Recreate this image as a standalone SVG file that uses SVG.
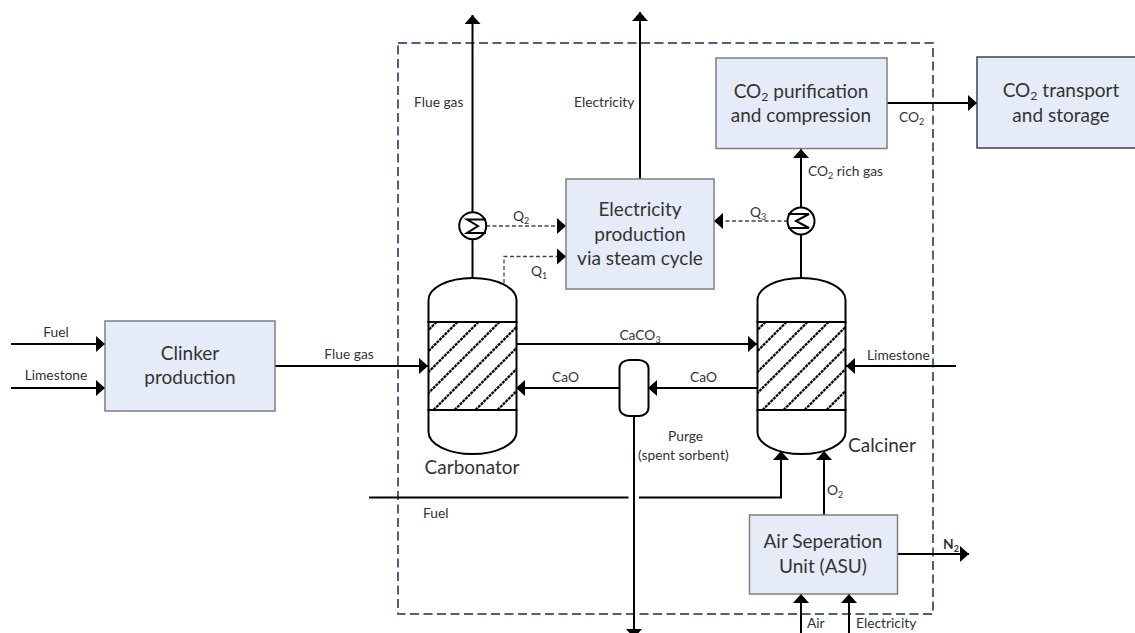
<svg xmlns="http://www.w3.org/2000/svg" width="1135" height="633" viewBox="0 0 1135 633">
<style>
text{font-family:Lato,"Liberation Sans",sans-serif;fill:#333;font-size:13.8px}
.b{font-size:19px}
.m{text-anchor:middle}
.s{font-size:.65em}
.box{fill:#e6ecf7;stroke:#7b7f86;stroke-width:1.5}
.ln{fill:none;stroke:#000;stroke-width:2}
.dl{fill:none;stroke:#444;stroke-width:1.3;stroke-dasharray:4 2.5}
.v{fill:#fff;stroke:#000;stroke-width:2}
.h{fill:none;stroke:#000;stroke-width:2.2;stroke-dasharray:3 .8}
</style>
<defs>
<marker id="a" markerUnits="userSpaceOnUse" markerWidth="10" markerHeight="16" refX="9" refY="8" orient="auto"><path d="M0 0L9 8L0 16Z" fill="#000"/></marker>
<clipPath id="bed"><rect x="0" y="0" width="88" height="88"/></clipPath>
<g id="hatch" clip-path="url(#bed)">
<path class="h" d="M-80 88L8 0M-59 88L29 0M-38 88L50 0M-17 88L71 0M5 88L93 0M26 88L114 0M47 88L135 0M69 88L157 0"/>
</g>
</defs>
<rect x="398" y="43" width="535" height="571" fill="none" stroke="#4a6286" stroke-width="2" stroke-dasharray="9 4.5"/>
<g id="connectors">
<path class="ln" d="M472.500 212V15" marker-end="url(#a)"/>
<path class="ln" d="M472.500 278V239"/>
<path class="ln" d="M640 179V12" marker-end="url(#a)"/>
<path class="ln" d="M801 207V149" marker-end="url(#a)"/>
<path class="ln" d="M801 278V235"/>
<path class="ln" d="M887 103H977" marker-end="url(#a)"/>
<path class="ln" d="M11 344H105" marker-end="url(#a)"/>
<path class="ln" d="M11 388H105" marker-end="url(#a)"/>
<path class="ln" d="M275 366H428" marker-end="url(#a)"/>
<path class="ln" d="M516.500 344H757" marker-end="url(#a)"/>
<path class="ln" d="M619 388H516" marker-end="url(#a)"/>
<path class="ln" d="M757 388H648" marker-end="url(#a)"/>
<path class="ln" d="M956 366H846" marker-end="url(#a)"/>
<path class="ln" d="M634 416V638" marker-end="url(#a)"/>
<path class="ln" d="M369 497.500H628.500"/>
<path class="ln" d="M639 497.500H781V451" marker-end="url(#a)"/>
<path class="ln" d="M824 515V451" marker-end="url(#a)"/>
<path class="ln" d="M897.500 554H969" marker-end="url(#a)"/>
<path class="ln" d="M801 633V594" marker-end="url(#a)"/>
<path class="ln" d="M849 633V594" marker-end="url(#a)"/>
<path class="dl" d="M486 226H566" marker-end="url(#a)"/>
<path class="dl" d="M504 283V256.500H566" marker-end="url(#a)"/>
<path class="dl" d="M788 221H714" marker-end="url(#a)"/>
</g>
<g id="clinker"><rect class="box" x="105" y="321" width="170" height="90"/><text class="b m" x="190" y="360">Clinker</text><text class="b m" x="190" y="384">production</text></g>
<g id="electricity-production"><rect class="box" x="566" y="179" width="148" height="110"/><text class="b m" x="640" y="216">Electricity</text><text class="b m" x="640" y="241">production</text><text class="b m" x="640" y="265">via steam cycle</text></g>
<g id="co2-purification"><rect class="box" x="716" y="58" width="171" height="90.500"/><text class="b m" x="801" y="98">CO<tspan class="s" dy="3">2</tspan><tspan dy="-3"> purification</tspan></text><text class="b m" x="801" y="122">and compression</text></g>
<g id="co2-transport"><path d="M1136 57H977V148H1136" fill="#e6ecf7" stroke="#3c4048" stroke-width="1.500"/><text class="b m" x="1061" y="97">CO<tspan class="s" dy="3">2</tspan><tspan dy="-3"> transport</tspan></text><text class="b m" x="1061" y="122">and storage</text></g>
<g id="asu"><rect class="box" x="749.500" y="515" width="148" height="79"/><text class="b m" x="823" y="548">Air Seperation</text><text class="b m" x="823" y="573">Unit (ASU)</text></g>
<g id="carbonator"><path class="v" d="M428.500 322V300A44 22 0 0 1 516.500 300V322ZM428.500 410V432A44 22 0 0 0 516.500 432V410Z"/><use href="#hatch" x="428.500" y="322"/><rect x="428.500" y="322" width="88" height="88" fill="none" stroke="#000" stroke-width="2"/><text class="b m" x="472" y="474">Carbonator</text></g>
<g id="calciner"><path class="v" d="M757.500 322V300A44 22 0 0 1 845.500 300V322ZM757.500 410V432A44 22 0 0 0 845.500 432V410Z"/><use href="#hatch" x="757.500" y="322"/><rect x="757.500" y="322" width="88" height="88" fill="none" stroke="#000" stroke-width="2"/><text class="b" x="848" y="452">Calciner</text></g>
<g id="splitter"><rect class="v" x="619.500" y="360" width="29" height="56" rx="10" ry="8"/></g>
<g id="hx-carbonator"><circle class="v" cx="472.700" cy="225.700" r="13.500"/><path fill="none" stroke="#000" stroke-width="2" d="M486 219.500H467L478 226L467 233H486"/></g>
<g id="hx-calciner"><circle class="v" cx="801" cy="221" r="13.500"/><path fill="none" stroke="#000" stroke-width="2" d="M788 214H809L796 221L809 228H788"/></g>
<g id="labels">
<text class="m" x="56" y="337">Fuel</text>
<text class="m" x="56" y="380">Limestone</text>
<text class="m" x="349" y="359">Flue gas</text>
<text x="414" y="107">Flue gas</text>
<text x="574" y="107">Electricity</text>
<text x="513" y="221">Q<tspan class="s" dy="3">2</tspan></text>
<text x="531" y="276">Q<tspan class="s" dy="3">1</tspan></text>
<text x="750" y="217">Q<tspan class="s" dy="3">3</tspan></text>
<text x="808" y="176">CO<tspan class="s" dy="3">2</tspan><tspan dy="-3"> rich gas</tspan></text>
<text x="899" y="122">CO<tspan class="s" dy="3">2</tspan></text>
<text class="m" x="640" y="340">CaCO<tspan class="s" dy="3">3</tspan></text>
<text x="552" y="382">CaO</text>
<text x="690" y="382">CaO</text>
<text x="668" y="441">Purge</text>
<text x="638" y="460">(spent sorbent)</text>
<text x="867" y="360">Limestone</text>
<text x="827" y="495">O<tspan class="s" dy="3">2</tspan></text>
<text x="943" y="549" font-weight="700" fill="#111">N<tspan class="s" dy="3">2</tspan></text>
<text x="807" y="628">Air</text>
<text x="856" y="628">Electricity</text>
<text x="423" y="518">Fuel</text>
</g>
</svg>
